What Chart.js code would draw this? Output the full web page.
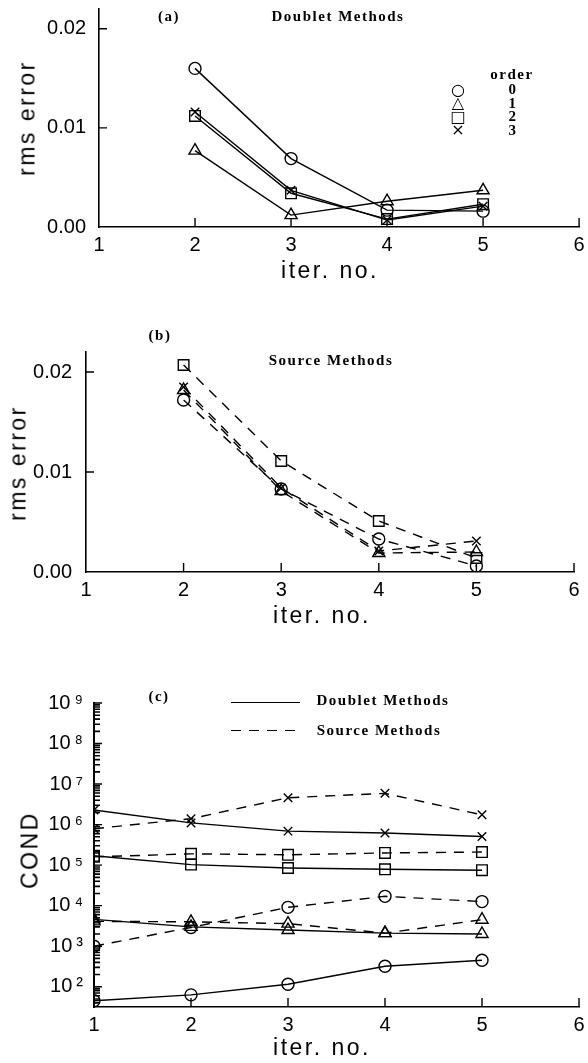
<!DOCTYPE html>
<html>
<head>
<meta charset="utf-8">
<script src="https://cdn.jsdelivr.net/npm/chart.js@4.4.1/dist/chart.umd.min.js"></script>
<style>
  body { margin: 0; background: #fff; width: 588px; height: 1063px; position: relative; overflow: hidden;
         font-family: "Liberation Sans", Arial, sans-serif; color: #000; }
  canvas { position: absolute; left: 0; }
  .t { position: absolute; white-space: nowrap; transform: translate(-50%, -50%); line-height: 1; }
  .b { font-family: "Liberation Serif", serif; font-weight: bold; font-size: 15px; letter-spacing: 1.5px; }
  .ax { font-size: 23px; letter-spacing: 2.5px; }
  .rot { transform: translate(-50%, -50%) rotate(-90deg); }
  .sym { font-family: "DejaVu Sans", sans-serif; font-size: 16px; }
  .line { position: absolute; width: 69px; height: 1.4px; background: #000; }
  .dash { background: repeating-linear-gradient(to right, #000 0 10px, transparent 10px 18px); }
</style>
</head>
<body>
<canvas id="chartA" width="588" height="262" style="top:0px"></canvas>
<canvas id="chartB" width="588" height="292" style="top:330px"></canvas>
<canvas id="chartC" width="588" height="383" style="top:680px"></canvas>

<!-- panel (a) texts -->
<div class="t b" style="left:169px; top:16px">(a)</div>
<div class="t b" style="left:338px; top:16px">Doublet Methods</div>
<div class="t b" style="left:512px; top:74px">order</div>
<div class="t sym" style="left:458px; top:90px">○</div><div class="t b" style="left:513px; top:89px">0</div>
<div class="t sym" style="left:458px; top:103px">△</div><div class="t b" style="left:513px; top:103px">1</div>
<div class="t sym" style="left:458px; top:117px">□</div><div class="t b" style="left:513px; top:116px">2</div>
<div class="t sym" style="left:458px; top:130px">×</div><div class="t b" style="left:513px; top:130px">3</div>
<div class="t ax rot" style="left:27px; top:118px">rms error</div>
<div class="t ax" style="left:330px; top:270px">iter. no.</div>

<!-- panel (b) texts -->
<div class="t b" style="left:160px; top:335px">(b)</div>
<div class="t b" style="left:331px; top:360px">Source Methods</div>
<div class="t ax rot" style="left:18px; top:463px">rms error</div>
<div class="t ax" style="left:322px; top:615px">iter. no.</div>

<!-- panel (c) texts -->
<div class="t b" style="left:159px; top:696px">(c)</div>
<div class="line" style="left:231px; top:702px"></div>
<div class="t b" style="left:383px; top:700px">Doublet Methods</div>
<div class="line dash" style="left:231px; top:730px"></div>
<div class="t b" style="left:379px; top:730px">Source Methods</div>
<div class="t ax rot" style="left:30px; top:850px">COND</div>
<div class="t ax" style="left:322px; top:1047px">iter. no.</div>

<script>
// ---- data ----
const iterAB = [2, 3, 4, 5];
const iterC = [1, 2, 3, 4, 5];
const xTicks = [1, 2, 3, 4, 5, 6];
const rmsTicks = [0, 0.01, 0.02];
const condTicks = [1e2, 1e3, 1e4, 1e5, 1e6, 1e7, 1e8, 1e9];

// (a) doublet methods, rms error by order
const doubletOrder0 = [0.0160, 0.0069, 0.0017, 0.0016];
const doubletOrder1 = [0.0077, 0.0012, 0.0026, 0.0037];
const doubletOrder2 = [0.0112, 0.0034, 0.0008, 0.0023];
const doubletOrder3 = [0.0116, 0.0037, 0.0007, 0.0021];

// (b) source methods, rms error by order
const sourceOrder0 = [0.0172, 0.0083, 0.0033, 0.0006];
const sourceOrder1 = [0.0182, 0.0081, 0.0019, 0.0020];
const sourceOrder2 = [0.0207, 0.0111, 0.0051, 0.0014];
const sourceOrder3 = [0.0185, 0.0084, 0.0021, 0.0031];

// (c) condition numbers
const condDoublet0 = [45, 63, 115, 320, 450];
const condDoublet1 = [4600, 3000, 2500, 2100, 2000];
const condDoublet2 = [1.7e5, 1.03e5, 8.5e4, 7.9e4, 7.5e4];
const condDoublet3 = [2.3e6, 1.1e6, 6.9e5, 6.2e5, 5.1e5];
const condSource0 = [1000, 2900, 9100, 17000, 12600];
const condSource1 = [4100, 4000, 3600, 2100, 4500];
const condSource2 = [1.6e5, 1.9e5, 1.8e5, 2.0e5, 2.1e5];
const condSource3 = [7.9e5, 1.4e6, 4.6e6, 5.9e6, 1.74e6];

const shapes = ['circle', 'triangle', 'rect', 'crossRot'];
const radii = [6, 7, 7.5, 6];
const sup = {0:'⁰',1:'¹',2:'²',3:'³',4:'⁴',5:'⁵',6:'⁶',7:'⁷',8:'⁸',9:'⁹'};

function series(xs, ys, order, dashed) {
  return {
    data: xs.map((x, i) => ({ x, y: ys[i] })),
    borderColor: '#000',
    borderWidth: 1.4,
    borderDash: dashed ? [10, 8] : [],
    pointStyle: shapes[order],
    pointRadius: radii[order],
    pointBorderWidth: 1.4,
    pointBorderColor: '#000',
    pointBackgroundColor: 'rgba(0,0,0,0)',
    fill: false,
    tension: 0
  };
}

// tick marks drawn inside the plot, like the original
const inwardTicks = {
  id: 'inwardTicks',
  afterDraw(chart, args, opts) {
    const { ctx, chartArea: a, scales: { x, y } } = chart;
    ctx.save();
    ctx.strokeStyle = '#000';
    ctx.lineWidth = 1.4;
    ctx.beginPath();
    x.ticks.forEach(t => {
      if (t.value <= x.min) return;
      const px = x.getPixelForValue(t.value);
      ctx.moveTo(px, a.bottom); ctx.lineTo(px, a.bottom - 9);
    });
    y.ticks.forEach(t => {
      if (t.value <= y.min) return;
      const py = y.getPixelForValue(t.value);
      ctx.moveTo(a.left, py); ctx.lineTo(a.left + 8, py);
    });
    ctx.stroke();
    if (opts.minor) {
      ctx.lineWidth = 1.6;
      ctx.beginPath();
      for (let e = 1; e < 9; e++) {
        for (let k = 2; k <= 9; k++) {
          const v = k * Math.pow(10, e);
          if (v < y.min || v > y.max) continue;
          const py = y.getPixelForValue(v);
          ctx.moveTo(a.left, py); ctx.lineTo(a.left + 6, py);
        }
      }
      ctx.stroke();
    }
    ctx.restore();
  }
};

function makeChart(id, canvasTop, canvasH, area, datasets, yOpts, minor) {
  const font = { family: '"Liberation Sans", Arial, sans-serif', size: 20 };
  return new Chart(document.getElementById(id), {
    type: 'line',
    data: { datasets },
    options: {
      responsive: false,
      animation: false,
      events: [],
      layout: { padding: { left: 0, right: 588 - area.right, top: area.top - canvasTop, bottom: 0 } },
      plugins: { legend: { display: false }, tooltip: { enabled: false }, inwardTicks: { minor } },
      scales: {
        x: {
          type: 'linear', min: 1, max: 6,
          grid: { display: false, drawTicks: false },
          border: { display: true, color: '#000', width: 1.6 },
          ticks: { color: '#000', font, padding: 6, callback: v => String(v) },
          afterBuildTicks: s => { s.ticks = xTicks.map(v => ({ value: v })); },
          afterFit: s => { s.height = canvasTop + canvasH - area.bottom; s.paddingLeft = 0; s.paddingRight = 0; }
        },
        y: Object.assign({
          grid: { display: false, drawTicks: false },
          border: { display: true, color: '#000', width: minor ? 2 : 1.6 },
          afterFit: s => { s.width = area.left; s.paddingTop = 0; s.paddingBottom = 0; }
        }, yOpts, { ticks: Object.assign({ color: '#000', font }, yOpts.ticks) })
      }
    },
    plugins: [inwardTicks]
  });
}

makeChart('chartA', 0, 262, { left: 99, right: 585, top: 8, bottom: 227 }, [
  series(iterAB, doubletOrder0, 0, false),
  series(iterAB, doubletOrder1, 1, false),
  series(iterAB, doubletOrder2, 2, false),
  series(iterAB, doubletOrder3, 3, false)
], {
  type: 'linear', min: 0, max: 0.022,
  ticks: { padding: 13, callback: v => v.toFixed(2) },
  afterBuildTicks: s => { s.ticks = rmsTicks.map(v => ({ value: v })); }
}, false);

makeChart('chartB', 330, 292, { left: 86, right: 574, top: 352, bottom: 572 }, [
  series(iterAB, sourceOrder0, 0, true),
  series(iterAB, sourceOrder1, 1, true),
  series(iterAB, sourceOrder2, 2, true),
  series(iterAB, sourceOrder3, 3, true)
], {
  type: 'linear', min: 0, max: 0.022,
  ticks: { padding: 14, callback: v => v.toFixed(2) },
  afterBuildTicks: s => { s.ticks = rmsTicks.map(v => ({ value: v })); }
}, false);

makeChart('chartC', 680, 383, { left: 94, right: 579, top: 703, bottom: 1007 }, [
  series(iterC, condDoublet0, 0, false),
  series(iterC, condDoublet1, 1, false),
  series(iterC, condDoublet2, 2, false),
  series(iterC, condDoublet3, 3, false),
  series(iterC, condSource0, 0, true),
  series(iterC, condSource1, 1, true),
  series(iterC, condSource2, 2, true),
  series(iterC, condSource3, 3, true)
], {
  type: 'logarithmic', min: Math.pow(10, 1.5), max: 1e9,
  ticks: { padding: 11, callback: v => '10' + '\u2009' + sup[Math.round(Math.log10(v))] },
  afterBuildTicks: s => { s.ticks = condTicks.map(v => ({ value: v })); }
}, true);
</script>
</body>
</html>
